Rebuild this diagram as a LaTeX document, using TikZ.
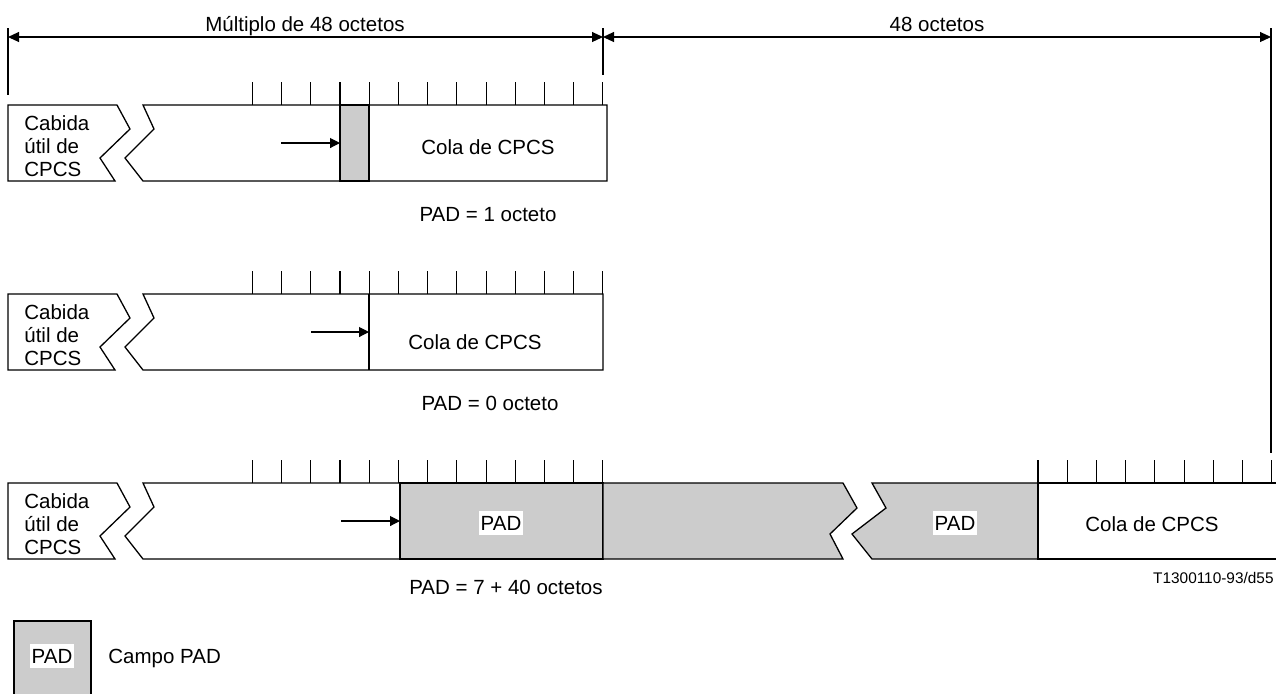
\documentclass[tikz,border=0pt]{standalone}
\usepackage{fontspec}
\setmainfont{Liberation Sans}
\usetikzlibrary{arrows.meta}
\definecolor{padgray}{RGB}{204,204,204}
\newcommand\mycabida[2]{%
  \node[lbl,anchor=base west] (#2a) at (24,#1+25) {Cabida};
  \node[lbl,anchor=base west] (#2b) at (24,#1+48) {útil de};
  \node[lbl,anchor=base west] (#2c) at (24,#1+71) {CPCS};
}
\newcommand\myleftpiece[1]{%
  \draw[box,fill=white] (8,#1) -- (117,#1) -- (130,#1+24) -- (100,#1+53) -- (115,#1+76) -- (8,#1+76) -- cycle;
}
\newcommand\myticks[3]{% y top, x start, count-1
  \foreach \i in {0,...,#3} \draw[tick] ({#2+29.22*\i},#1-23) -- ({#2+29.22*\i},#1);
}
\begin{document}
\begin{tikzpicture}[x=0.5pt,y=-0.5pt,
  box/.style={draw=black,line width=0.65pt},
  tick/.style={draw=black,line width=0.55pt},
  ptr/.style={-{Triangle[length=5pt,width=5pt]},line width=0.55pt},
  dimline/.style={{Triangle[length=5.5pt,width=5pt]}-{Triangle[length=5.5pt,width=5pt]},line width=0.55pt},
  lbl/.style={font=\fontsize{10.25}{12}\selectfont,inner sep=0pt},
  padlbl/.style={lbl,fill=white,inner xsep=0.8pt,inner ysep=2.5pt},
  small/.style={font=\fontsize{7.7}{9}\selectfont,inner sep=0pt}
]
\useasboundingbox (0,0) rectangle (1276,693);

% dimension lines
\coordinate (dL) at (8,37);
\coordinate (dM) at (603,37);
\coordinate (dR) at (1271,37);
\draw[line width=0.55pt] (8,28) -- (8,95);
\draw[line width=0.55pt] (603,28) -- (603,75);
\draw[line width=0.55pt] (1271,28) -- (1271,453);
\draw[dimline] (dL) -- (dM);
\draw[dimline] (dM) -- (dR);
\node[lbl,anchor=base] (t1) at (305,31) {Múltiplo de 48 octetos};
\node[lbl,anchor=base] (t2) at (937,31) {48 octetos};

% ---------- row 1 ----------
\myticks{105}{252.3}{12}
\myleftpiece{105}
\draw[box,fill=white] (607,105) -- (143,105) -- (154,129) -- (125,158) -- (143,181) -- (607,181) -- cycle;
\draw[box,fill=padgray] (340,105) rectangle (369,181);
\mycabida{105}{c1}
\coordinate (a1s) at (281,143);
\coordinate (a1e) at (340,143);
\draw[ptr] (a1s) -- (a1e);
\node[lbl,anchor=base] (cola1) at (488,154) {Cola de CPCS};
\node[lbl,anchor=base] (p1) at (488,221) {PAD = 1 octeto};

% ---------- row 2 ----------
\myticks{294}{252.3}{12}
\myleftpiece{294}
\draw[box,fill=white] (603,294) -- (143,294) -- (154,318) -- (125,347) -- (143,370) -- (603,370) -- cycle;
\draw[box] (369,294) -- (369,370);
\mycabida{294}{c2}
\coordinate (a2s) at (311,332);
\coordinate (a2e) at (369,332);
\draw[ptr] (a2s) -- (a2e);
\node[lbl,anchor=base] (cola2) at (475,349) {Cola de CPCS};
\node[lbl,anchor=base] (p2) at (490,410) {PAD = 0 octeto};

% ---------- row 3 ----------
\myticks{483}{252.3}{12}
\myticks{483}{1038}{8}
\myleftpiece{483}
\draw[box,fill=white] (400,483) -- (143,483) -- (154,507) -- (125,536) -- (143,559) -- (400,559) -- cycle;
\draw[box,fill=padgray] (400,483) rectangle (603,559);
\draw[box,fill=padgray] (603,483) -- (843,483) -- (857,508) -- (830,534) -- (843,559) -- (603,559) -- cycle;
\draw[box,fill=padgray] (1038,483) -- (872,483) -- (886,508) -- (852,534) -- (872,559) -- (1038,559) -- cycle;
\draw[box,fill=white] (1038,483) rectangle (1280,559);
\mycabida{483}{c3}
\coordinate (a3s) at (341,521);
\coordinate (a3e) at (400,521);
\draw[ptr] (a3s) -- (a3e);
\node[padlbl,anchor=base] (pad3a) at (501,530) {PAD};
\node[padlbl,anchor=base] (pad3b) at (955,530) {PAD};
\node[lbl,anchor=base] (cola3) at (1152,531) {Cola de CPCS};
\node[lbl,anchor=base] (p3) at (506,594) {PAD = 7 + 40 octetos};
\node[small,anchor=base east] (ref) at (1274,583) {T1300110-93/d55};

% ---------- legend ----------
\draw[box,fill=padgray] (14,621) rectangle (91,710);
\node[padlbl,anchor=base] (legpad) at (52,663) {PAD};
\node[lbl,anchor=base west] (legtxt) at (108,663) {Campo PAD};
\end{tikzpicture}
\end{document}
